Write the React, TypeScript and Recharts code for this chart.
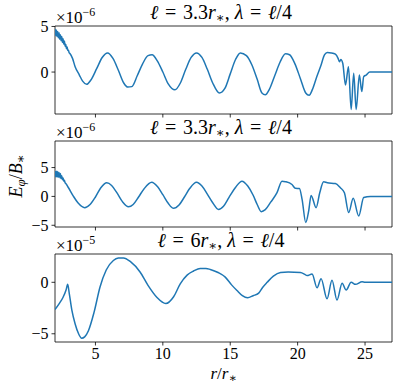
import { LineChart, Line, XAxis, YAxis, ReferenceArea } from 'recharts';

// r / r_* positions shared by all three panels
const xTicks = [5, 10, 15, 20, 25];

// panel 1: l = 3.3 r_*, lambda = l/4  (units of 1e-6)
const p1X = [
  2.0, 2.05, 2.1, 2.15, 2.2, 2.25, 2.3, 2.35, 2.4, 2.45, 2.5, 2.55, 2.6, 2.65, 2.7, 2.75, 2.8, 2.85, 2.9, 2.95, 3.0, 3.05, 3.1,
  3.3, 3.5, 3.8, 4.05, 4.35, 4.65, 5.1, 5.5, 5.9, 6.3, 6.7, 7.1, 7.4, 7.7, 8.1, 8.5, 8.9, 9.2, 9.6, 10.0, 10.4, 10.9,
  11.3, 11.7, 12.1, 12.5, 12.9, 13.3, 13.7, 14.2, 14.6, 15.0, 15.4, 15.75, 16.2, 16.6, 17.0, 17.35, 17.6, 17.9, 18.3,
  18.7, 19.1, 19.4, 19.8, 20.2, 20.6, 20.85, 21.1, 21.4, 21.7, 22.0, 22.2, 22.5, 22.8, 23.0, 23.1, 23.2, 23.35, 23.55,
  23.77, 23.97, 24.16, 24.34, 24.58, 24.76, 24.9, 25.08, 25.35, 26.0, 27.0,
];
const p1Y = [
  4.75, 4.0, 4.6, 3.9, 4.45, 3.75, 4.3, 3.6, 4.1, 3.45, 3.9, 3.25, 3.65, 3.05, 3.4, 2.8, 3.05, 2.55, 2.75, 2.35, 2.4, 2.1, 2.05,
  1.5, 0.55, -0.3, -1.0, -1.35, -0.9, 0.4, 1.6, 2.1, 1.5, 0.2, -1.2, -1.65, -1.6, -0.4, 0.9, 1.8, 1.9, 1.2, 0.0, -1.3, -1.95,
  -1.2, 0.3, 1.6, 2.1, 1.6, 0.3, -1.2, -2.3, -1.8, -0.2, 1.4, 2.1, 1.8, 0.8, -0.8, -2.3, -2.5, -1.9, -0.4,
  1.1, 2.0, 1.9, 0.9, -0.7, -2.3, -2.55, -1.9, -0.6, 0.6, 1.9, 2.14, 2.1, 1.96, 1.5, 1.12, 1.38, 0.94, -1.41,
  0.58, -4.1, -0.14, -4.1, -0.33, -2.14, -0.5, -0.33, 0.0, 0.0, 0.0,
];

// panel 2: l = 3.3 r_*, lambda = l/2  (units of 1e-6)
const p2X = [
  2.0, 2.05, 2.1, 2.15, 2.2, 2.25, 2.3, 2.35, 2.4, 2.45, 2.5, 2.55, 2.6, 2.65, 2.7, 2.75, 2.8,
  3.0, 3.36, 3.7, 4.2, 4.6, 5.0, 5.4, 5.84, 6.2, 6.6, 7.0, 7.45, 7.8, 8.2, 8.6, 9.18, 9.6, 10.0, 10.4, 10.8,
  11.2, 11.6, 12.0, 12.5, 12.9, 13.3, 13.7, 14.13, 14.5, 14.9, 15.4, 15.87, 16.3, 16.7, 17.0, 17.3, 17.6, 18.0,
  18.47, 18.84, 19.1, 19.58, 19.83, 20.13, 20.33, 20.6, 20.82, 21.0, 21.37, 21.64, 21.93, 22.2, 22.8, 23.17,
  23.47, 23.79, 24.12, 24.53, 24.9, 25.4, 26.0, 27.0,
];
const p2Y = [
  4.4, 3.4, 4.35, 3.35, 4.3, 3.3, 4.15, 3.25, 3.95, 3.1, 3.6, 2.9, 3.2, 2.65, 2.8, 2.35, 2.25,
  1.5, 0.05, -1.1, -1.95, -1.4, -0.1, 1.5, 2.36, 1.9, 0.6, -0.9, -1.8, -1.4, -0.1, 1.3, 2.45, 1.7, 0.3, -1.2, -2.07,
  -1.5, -0.1, 1.4, 2.45, 1.8, 0.4, -1.1, -2.25, -1.7, -0.2, 1.6, 2.64, 1.8, 0.2, -1.4, -2.64, -2.3, -1.0,
  0.64, 2.64, 2.55, 2.07, 1.4, 1.38, -0.5, -4.5, -2.5, 0.17, -1.95, 0.64, 2.53, 2.36, 2.24, 1.5,
  0.64, -2.8, -0.34, -3.4, -0.2, 0.0, 0.0, 0.0,
];

// panel 3: l = 6 r_*, lambda = l/4  (units of 1e-5)
const p3X = [
  2.0, 2.3, 2.6, 2.82, 2.94, 3.06, 3.25, 3.49, 3.75, 3.98, 4.2, 4.48, 4.9, 5.34, 5.8, 6.33, 6.7, 7.08, 7.6, 8.31,
  8.9, 9.55, 10.22, 10.8, 11.29, 11.8, 12.28, 12.77, 13.2, 13.52, 14.1, 14.63, 15.1, 15.5, 15.9, 16.29, 16.7, 17.11,
  17.4, 17.74, 18.2, 18.73, 19.3, 20.2, 20.5, 20.7, 21.07, 21.44, 21.74, 22.18, 22.55, 22.92, 23.3, 23.6, 23.97,
  24.29, 24.78, 25.0, 26.0, 27.0,
];
const p3Y = [
  -2.65, -2.1, -1.45, -0.75, -0.2, -1.1, -2.7, -4.02, -5.0, -5.43, -5.3, -4.7, -2.9, -0.45, 1.2, 2.12, 2.35, 2.37, 2.0, 1.0,
  -0.3, -1.45, -2.06, -1.4, -0.15, 0.7, 1.1, 1.35, 1.35, 1.25, 0.95, 0.5, -0.25, -0.8, -1.3, -1.5, -1.3, -1.05,
  -0.5, 0.0, 0.6, 0.95, 1.0, 0.95, 0.8, 0.65, 0.8, -0.53, 0.35, -1.6, 0.2, -1.73, -0.1, -0.75, 0.0,
  -0.2, 0.05, 0.0, 0.0, 0.0,
];

const BLUE = '#1f77b4';
const FONT = "'Liberation Serif', 'DejaVu Serif', serif";
const fmt = (v: number) => (v < 0 ? `\u2212${-v}` : `${v}`);
const tickStyle = { fontSize: 16, fontFamily: FONT, fill: '#000', style: { fontFamily: FONT } };

function Panel({ xs, ys, domain, yTicks, top, plotH, xLabels }: any) {
  const data = xs.map((x: number, i: number) => ({ r: x, e: ys[i] }));
  const xH = xLabels ? 26 : 8;
  return (
    <div style={{ position: 'absolute', left: 0, top: top - 12 }}>
      <LineChart width={399} height={plotH + 12 + xH} data={data}
        margin={{ top: 12, right: 7, left: 0, bottom: 0 }}>
        <XAxis dataKey="r" type="number" domain={[2, 27]} ticks={xTicks} interval={0} allowDataOverflow
          height={xH} tickSize={3.5} axisLine={false} tickLine={{ stroke: '#000', strokeWidth: 0.8 }}
          tickFormatter={xLabels ? (v: number) => `${v}` : () => ''}
          tick={tickStyle} tickMargin={2} />
        <YAxis type="number" domain={domain} ticks={yTicks} interval={0} allowDataOverflow width={55}
          tickSize={3.5} axisLine={false} tickLine={{ stroke: '#000', strokeWidth: 0.8 }}
          tickFormatter={fmt} tick={tickStyle} tickMargin={3} />
        <Line type="monotone" dataKey="e" stroke={BLUE} strokeWidth={1.5} dot={false} isAnimationActive={false} />
        <ReferenceArea x1={2} x2={27} y1={domain[0]} y2={domain[1]} fill="none" fillOpacity={0}
          stroke="#000" strokeWidth={0.8} ifOverflow="visible" />
      </LineChart>
    </div>
  );
}

const EQ = '\u2004=\u2004';

function Title({ y, ell }: { y: number; ell: string }) {
  return (
    <text x={221} y={y} textAnchor="middle" fontSize={20} style={{ fontFamily: FONT }}>
      <tspan fontStyle="italic">ℓ</tspan>{`${EQ}${ell}`}<tspan fontStyle="italic">r</tspan>
      <tspan fontSize={13} dy={3}>∗</tspan><tspan dy={-3}>{', '}</tspan>
      <tspan fontStyle="italic">λ</tspan>{EQ}<tspan fontStyle="italic">ℓ</tspan>{'/4'}
    </text>
  );
}

function Offset({ y, exp }: { y: number; exp: string }) {
  return (
    <text x={56} y={y} fontSize={17} style={{ fontFamily: FONT }}>
      ×10<tspan fontSize={12} dy={-7}>{exp}</tspan>
    </text>
  );
}

export default function App() {
  return (
    <div style={{ position: 'absolute', left: 0, top: 0, width: 399, height: 390, background: '#fff' }}>
      <Panel xs={p1X} ys={p1Y} domain={[-4.6, 5.05]} yTicks={[0, 5]} top={26} plotH={88} />
      <Panel xs={p2X} ys={p2Y} domain={[-5.3, 9.6]} yTicks={[-5, 0, 5]} top={141} plotH={86} />
      <Panel xs={p3X} ys={p3Y} domain={[-5.8, 2.75]} yTicks={[-5, 0]} top={254} plotH={88} xLabels />
      <svg width={399} height={390} style={{ position: 'absolute', left: 0, top: 0, pointerEvents: 'none' }}>
        <Title y={19} ell="3.3" />
        <Title y={134} ell="3.3" />
        <Title y={247} ell="6" />
        <Offset y={23} exp="−6" />
        <Offset y={138} exp="−6" />
        <Offset y={251} exp="−5" />
        <text transform="translate(22,176) rotate(-90)" textAnchor="middle" fontSize={18} style={{ fontFamily: FONT }}>
          <tspan fontStyle="italic">E</tspan><tspan fontSize={13} dy={3} fontStyle="italic">φ</tspan>
          <tspan dy={-3}>/</tspan><tspan fontStyle="italic">B</tspan><tspan fontSize={13} dy={3}>∗</tspan>
        </text>
        <text x={223.5} y={379} textAnchor="middle" fontSize={17} style={{ fontFamily: FONT }}>
          <tspan fontStyle="italic">r</tspan>/<tspan fontStyle="italic">r</tspan><tspan fontSize={12} dy={3}>∗</tspan>
        </text>
      </svg>
    </div>
  );
}
